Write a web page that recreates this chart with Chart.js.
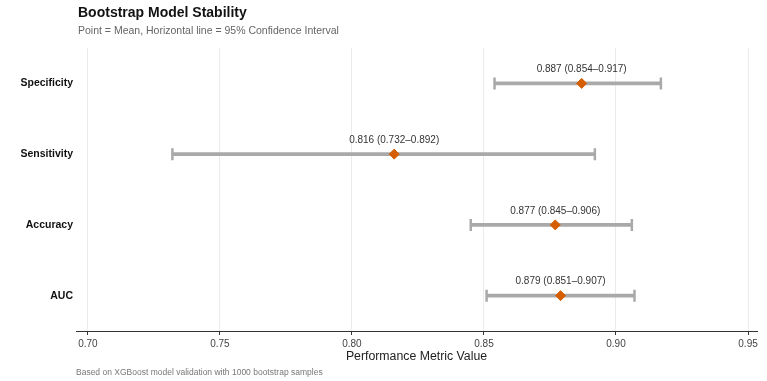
<!DOCTYPE html>
<html>
<head>
<meta charset="utf-8">
<script src="https://cdn.jsdelivr.net/npm/chart.js"></script>
<style>
  html, body { margin: 0; padding: 0; background: #fff; }
  #wrap { width: 767px; height: 381px; position: relative; }
</style>
</head>
<body>
<div id="wrap"><canvas id="chart"></canvas></div>
<script>
// values
var metrics = ['Specificity', 'Sensitivity', 'Accuracy', 'AUC'];
var means = [0.887, 0.816, 0.877, 0.879];
var lows = [0.854, 0.732, 0.845, 0.851];
var highs = [0.917, 0.892, 0.906, 0.907];
var xTicks = [0.70, 0.75, 0.80, 0.85, 0.90, 0.95];

var FONT = '"Liberation Sans", Arial, Helvetica, sans-serif';
var ORANGE = '#d55e00';
var GREY = '#a9a9a9';

function pts(vals) {
  return vals.map(function (v, i) { return { x: v, y: metrics[i] }; });
}

// title, subtitle, caption and the value labels over each point
var textPlugin = {
  id: 'texts',
  afterDatasetsDraw: function (chart) {
    var ctx = chart.ctx;
    var xs = chart.scales.x, ys = chart.scales.y;
    ctx.save();
    ctx.fillStyle = '#333';
    ctx.font = '10px ' + FONT;
    ctx.textAlign = 'center';
    ctx.textBaseline = 'middle';
    metrics.forEach(function (m, i) {
      var label = means[i].toFixed(3) + ' (' + lows[i].toFixed(3) + '\u2013' + highs[i].toFixed(3) + ')';
      ctx.fillText(label, xs.getPixelForValue(means[i]), ys.getPixelForValue(i) - 14);
    });
    ctx.restore();
  },
  afterDraw: function (chart) {
    var ctx = chart.ctx;
    ctx.save();
    ctx.textAlign = 'left';
    ctx.textBaseline = 'middle';
    ctx.fillStyle = '#111';
    ctx.font = 'bold 14px ' + FONT;
    ctx.fillText('Bootstrap Model Stability', 78, 13);
    ctx.fillStyle = '#666';
    ctx.font = '10.5px ' + FONT;
    ctx.fillText('Point = Mean, Horizontal line = 95% Confidence Interval', 78, 31);
    ctx.fillStyle = '#777';
    ctx.font = '8.5px ' + FONT;
    ctx.fillText('Based on XGBoost model validation with 1000 bootstrap samples', 76, 373);
    ctx.restore();
  }
};

new Chart(document.getElementById('chart'), {
  type: 'bar',
  data: {
    labels: metrics,
    datasets: [
      {
        label: 'CI',
        data: metrics.map(function (m, i) { return [lows[i], highs[i]]; }),
        backgroundColor: GREY,
        barThickness: 3,
        order: 3
      },
      {
        type: 'scatter',
        label: 'low',
        indexAxis: 'y',
        data: pts(lows),
        pointStyle: 'line',
        rotation: 90,
        radius: 6,
        borderWidth: 2.5,
        borderColor: GREY,
        order: 2
      },
      {
        type: 'scatter',
        label: 'high',
        indexAxis: 'y',
        data: pts(highs),
        pointStyle: 'line',
        rotation: 90,
        radius: 6,
        borderWidth: 2.5,
        borderColor: GREY,
        order: 2
      },
      {
        type: 'scatter',
        label: 'mean',
        indexAxis: 'y',
        data: pts(means),
        pointStyle: 'rectRot',
        radius: 5,
        backgroundColor: ORANGE,
        borderColor: ORANGE,
        borderWidth: 1,
        order: 1
      }
    ]
  },
  options: {
    indexAxis: 'y',
    responsive: true,
    maintainAspectRatio: false,
    animation: false,
    layout: { padding: { top: 48, right: 10, bottom: 14, left: 0 } },
    plugins: {
      legend: { display: false },
      tooltip: { enabled: false }
    },
    scales: {
      x: {
        type: 'linear',
        min: 0.6955,
        max: 0.9534,
        afterFit: function (s) { s.height = 36; },
        afterBuildTicks: function (s) {
          s.ticks = xTicks.map(function (v) { return { value: v }; });
        },
        grid: {
          color: '#ebebeb',
          lineWidth: 1,
          tickColor: '#333',
          tickLength: 4
        },
        border: { display: true, color: '#333', width: 1 },
        ticks: {
          color: '#444',
          font: { family: FONT, size: 10 },
          padding: 3,
          maxRotation: 0,
          callback: function (v) { return Number(v).toFixed(2); }
        },
        title: {
          display: true,
          text: 'Performance Metric Value',
          color: '#222',
          font: { family: FONT, size: 12.3 },
          padding: { top: 0, bottom: 3 }
        }
      },
      y: {
        type: 'category',
        afterFit: function (s) { s.width = 76; },
        grid: { display: false, drawTicks: false },
        border: { display: false },
        ticks: {
          color: '#111',
          font: { family: FONT, size: 10.5, weight: 'bold' },
          padding: 3
        }
      }
    }
  },
  plugins: [textPlugin]
});
</script>
</body>
</html>
